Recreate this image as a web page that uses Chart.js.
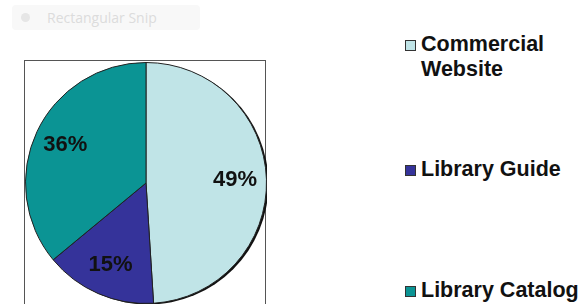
<!DOCTYPE html>
<html>
<head>
<meta charset="utf-8">
<script src="https://cdn.jsdelivr.net/npm/chart.js@4"></script>
<style>
  html,body{margin:0;padding:0;background:#fff;width:583px;height:304px;overflow:hidden;font-family:"Liberation Sans",Arial,sans-serif;}
  #snip{position:absolute;left:12px;top:5px;width:188px;height:25px;background:#f8f8f8;border-radius:4px;}
  #snip .ico{position:absolute;left:9px;top:8px;width:9px;height:9px;border-radius:50%;background:#e6e6e6;}
  #snip .txt{position:absolute;left:35px;top:3px;font:14px "Open Sans",sans-serif;color:#dcdcdc;}
  #box{position:absolute;left:24px;top:60px;width:240px;height:260px;border:1px solid #555;}
  #wrap{position:absolute;left:25px;top:62px;width:242px;height:242px;}
  #legend{position:absolute;left:0;top:0;}
  .item{position:absolute;left:421px;width:162px;font-weight:bold;font-size:21.5px;line-height:25px;color:#111;}
  .item .sw{position:absolute;left:-16px;top:8px;width:9px;height:9px;border:1px solid #333;}
</style>
</head>
<body>
<div id="snip"><div class="ico"></div><div class="txt">Rectangular Snip</div></div>
<div id="box"></div>
<div id="wrap"><canvas id="pie"></canvas></div>
<div id="legend"></div>
<script>
/* ---------- data ---------- */
const labels=['Commercial Website','Library Guide','Library Catalog'];
const values=[49,15,36];
const colors=['#c0e4e7','#35339a','#0b9494'];

/* ---------- legend (html) ---------- */
const legTops=[32,157,278];
const leg=document.getElementById('legend');
labels.forEach((l,i)=>{
  const d=document.createElement('div');
  d.className='item'; d.style.top=legTops[i]+'px';
  d.innerHTML=`<span class="sw" style="background:${colors[i]}"></span>${l}`;
  leg.appendChild(d);
});

/* ---------- plugins ---------- */
const shadow={
  id:'shadow',
  beforeDatasetsDraw(chart){
    const a=chart.getDatasetMeta(0).data[0]; if(!a)return;
    const c=chart.ctx;
    c.save(); c.fillStyle='#111';
    c.beginPath(); c.arc(a.x+2,a.y+1,a.outerRadius,0,Math.PI*2); c.fill();
    c.restore();
  }
};
const pctLabels={
  id:'pctLabels',
  afterDatasetsDraw(chart){
    const c=chart.ctx;
    c.save();
    c.font='bold 22px "Liberation Sans", Arial, sans-serif';
    c.fillStyle='#111'; c.textAlign='center'; c.textBaseline='middle';
    chart.getDatasetMeta(0).data.forEach((arc,i)=>{
      const mid=(arc.startAngle+arc.endAngle)/2, r=arc.outerRadius*0.74;
      c.fillText(values[i]+'%',arc.x+Math.cos(mid)*r,arc.y+Math.sin(mid)*r);
    });
    c.restore();
  }
};

/* ---------- chart ---------- */
new Chart(document.getElementById('pie'),{
  type:'pie',
  data:{labels,datasets:[{data:values,backgroundColor:colors,borderColor:'#222',borderWidth:1}]},
  options:{
    responsive:true,maintainAspectRatio:false,animation:false,
    layout:{padding:0},
    plugins:{legend:{display:false},tooltip:{enabled:false}}
  },
  plugins:[shadow,pctLabels]
});
</script>
</body>
</html>
